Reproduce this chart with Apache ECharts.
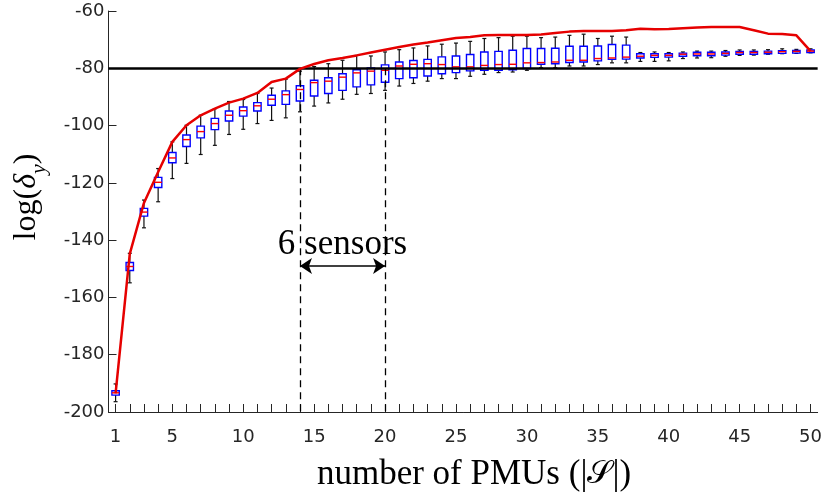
<!DOCTYPE html>
<html>
<head>
<meta charset="utf-8">
<script src="https://cdn.jsdelivr.net/npm/echarts@6/dist/echarts.min.js"></script>
<style>html,body{margin:0;padding:0;background:#fff}</style>
</head>
<body>
<div id="chart" style="width:825px;height:502px"></div>
<script>
// ---- data ----
const categories = ['1','2','3','4','5','6','7','8','9','10','11','12','13','14','15','16','17','18','19','20',
  '21','22','23','24','25','26','27','28','29','30','31','32','33','34','35','36','37','38','39','40',
  '41','42','43','44','45','46','47','48','49','50'];
const xLabelShown = ['1','5','10','15','20','25','30','35','40','45','50'];

const whiskerLow = [-196.4,-154.9,-135.7,-126.6,-118.5,-113.2,-110.1,-106.9,-103.1,-101.3,
  -99.3,-98.2,-97.3,-95.2,-93.2,-92.1,-90.8,-89.1,-88.8,-87.7,
  -86.2,-85.3,-84.5,-83.6,-83.6,-82.8,-82.1,-81.5,-81.3,-80.7,
  -79.8,-79.8,-79.2,-79.2,-78.7,-78.1,-78.1,-77.6,-77.6,-77.4,
  -76.6,-76.4,-76.3,-75.8,-75.5,-75.4,-75.1,-74.9,-74.8,-74.6];
const boxQ1 = [-194.1,-150.6,-131.6,-121.6,-113.0,-107.3,-104.3,-101.4,-98.4,-96.7,
  -94.9,-92.9,-92.6,-91.4,-89.7,-88.8,-87.7,-86.5,-85.8,-84.9,
  -83.6,-83.3,-82.7,-81.9,-81.5,-80.9,-80.7,-80.7,-80.5,-80.1,
  -78.6,-78.4,-78.0,-77.8,-77.4,-76.9,-76.8,-76.4,-76.2,-76.1,
  -75.8,-75.6,-75.6,-75.4,-75.1,-75.1,-74.9,-74.8,-74.7,-74.5];
const boxMedian = [-193.3,-149.2,-130.2,-119.8,-111.3,-104.9,-102.1,-99.3,-96.4,-94.8,
  -93.1,-90.8,-89.2,-87.4,-85.0,-84.5,-83.1,-81.6,-81.0,-80.7,
  -79.2,-78.6,-78.4,-78.7,-79.5,-79.5,-79.0,-78.7,-78.6,-78.1,
  -78.0,-77.8,-77.2,-77.2,-76.6,-76.4,-76.1,-75.8,-75.5,-75.5,
  -75.1,-75.0,-75.0,-74.8,-74.5,-74.5,-74.4,-74.2,-74.1,-74.0];
const boxQ3 = [-192.6,-147.8,-128.9,-118.1,-109.4,-103.3,-100.2,-97.5,-94.9,-93.5,
  -92.0,-89.4,-87.9,-86.1,-84.2,-83.3,-81.9,-80.5,-79.9,-78.8,
  -77.8,-77.3,-76.9,-76.0,-75.7,-75.2,-74.3,-74.1,-73.7,-73.1,
  -73.1,-73.0,-72.3,-72.3,-72.2,-71.7,-71.9,-74.9,-74.9,-74.9,
  -74.7,-74.4,-74.4,-74.3,-74.1,-74.1,-74.0,-73.9,-73.8,-73.6];
const whiskerHigh = [-190.2,-144.6,-126.0,-115.0,-105.7,-99.9,-96.4,-94.1,-91.6,-90.9,
  -88.8,-86.9,-83.8,-81.0,-79.4,-78.4,-77.2,-75.5,-75.7,-74.3,
  -73.5,-72.9,-72.2,-71.6,-71.2,-70.6,-69.6,-69.3,-68.8,-68.8,
  -69.3,-69.1,-68.5,-68.1,-69.6,-68.8,-69.1,-74.5,-74.3,-74.5,
  -74.3,-74.0,-74.0,-73.8,-73.6,-73.6,-73.5,-73.2,-73.4,-73.2];
const maxCurve = [-193.5,-144.8,-127.0,-116.2,-105.7,-99.9,-96.4,-94.1,-92.0,-90.6,
  -88.6,-84.8,-83.6,-80.2,-78.5,-77.2,-76.4,-75.5,-74.5,-73.5,
  -72.6,-71.7,-71.0,-70.2,-69.4,-69.1,-68.5,-68.4,-68.4,-68.4,
  -68.2,-67.7,-67.2,-67.0,-67.0,-67.0,-66.7,-66.2,-66.4,-66.3,
  -66.0,-65.8,-65.6,-65.6,-65.6,-66.7,-67.9,-68.0,-68.5,-74.0];

const yMin = -200, yMax = -60, yStep = 20;
const threshold = -80;
const markFrom = '14', markTo = '20';
const arrowLevel = -149;
const noteCategory = '17', noteLevel = -141.5, noteText = '6 sensors';

// ---- chart ----
const chart = echarts.init(document.getElementById('chart'), null, {renderer: 'canvas'});
const axisColor = '#262626';
const boxData = categories.map((c, i) => [i, whiskerLow[i], boxQ1[i], boxMedian[i], boxQ3[i], whiskerHigh[i]]);

function renderBox(params, api) {
  const i = api.value(0);
  const lo = api.coord([i, api.value(1)]);
  const q1 = api.coord([i, api.value(2)]);
  const md = api.coord([i, api.value(3)]);
  const q3 = api.coord([i, api.value(4)]);
  const hi = api.coord([i, api.value(5)]);
  const band = api.size([1, 0])[0];
  const bw = band * 0.52, cw = band * 0.28;
  const x = lo[0];
  const wStyle = {stroke: '#111', lineWidth: 1.2};
  return {
    type: 'group',
    children: [
      {type: 'line', shape: {x1: x, y1: hi[1], x2: x, y2: q3[1]}, style: wStyle},
      {type: 'line', shape: {x1: x, y1: q1[1], x2: x, y2: lo[1]}, style: wStyle},
      {type: 'line', shape: {x1: x - cw / 2, y1: hi[1], x2: x + cw / 2, y2: hi[1]}, style: wStyle},
      {type: 'line', shape: {x1: x - cw / 2, y1: lo[1], x2: x + cw / 2, y2: lo[1]}, style: wStyle},
      {type: 'rect', shape: {x: x - bw / 2, y: q3[1], width: bw, height: q1[1] - q3[1]},
        style: {fill: 'rgba(255,255,255,0)', stroke: '#0000ff', lineWidth: 1.4}},
      {type: 'line', shape: {x1: x - bw / 2, y1: md[1], x2: x + bw / 2, y2: md[1]},
        style: {stroke: '#ff0000', lineWidth: 1.4}}
    ]
  };
}

const option = {
  animation: false,
  backgroundColor: '#ffffff',
  grid: {left: 108.5, right: 7, top: 11, bottom: 90},
  xAxis: {
    type: 'category',
    data: categories,
    boundaryGap: true,
    axisLine: {show: true, lineStyle: {color: axisColor, width: 1}},
    axisTick: {show: true, inside: true, alignWithLabel: true, interval: 0, length: 8,
      lineStyle: {color: axisColor, width: 1}},
    axisLabel: {interval: (idx, val) => xLabelShown.indexOf(val) >= 0,
      fontFamily: 'DejaVu Sans', fontSize: 18, color: axisColor, margin: 16},
    splitLine: {show: false}
  },
  yAxis: {
    type: 'value',
    min: yMin, max: yMax, interval: yStep,
    axisLine: {show: true, lineStyle: {color: axisColor, width: 1}},
    axisTick: {show: true, inside: true, length: 8, lineStyle: {color: axisColor, width: 1}},
    axisLabel: {fontFamily: 'DejaVu Sans', fontSize: 18, color: axisColor, margin: 4},
    splitLine: {show: false}
  },
  graphic: [
    {
      type: 'text', x: 27, y: 197, rotation: Math.PI / 2,
      style: {
        text: '{n|log(}{g|δ}{s|y}{n|)}',
        align: 'center', verticalAlign: 'middle',
        rich: {
          n: {fontFamily: 'Liberation Serif', fontSize: 32, color: '#000', lineHeight: 46, verticalAlign: 'middle'},
          g: {fontFamily: 'Liberation Serif', fontStyle: 'italic', fontSize: 32, color: '#000', lineHeight: 46, verticalAlign: 'middle'},
          s: {fontFamily: 'Liberation Serif', fontStyle: 'italic', fontSize: 22, color: '#000', lineHeight: 46, verticalAlign: 'bottom'}
        }
      }
    },
    {
      type: 'text', x: 474, y: 475,
      style: {
        text: '{n|number of PMUs (|}{c|𝒮}{n||)}',
        align: 'center', verticalAlign: 'middle',
        rich: {
          n: {fontFamily: 'Liberation Serif', fontSize: 35, color: '#000'},
          c: {fontFamily: 'DejaVu Serif', fontSize: 32, color: '#000'}
        }
      }
    }
  ],
  series: [
    {
      type: 'custom',
      name: 'distribution',
      renderItem: renderBox,
      data: boxData,
      encode: {x: 0, y: [1, 2, 3, 4, 5]},
      z: 3,
      silent: true
    },
    {
      type: 'line',
      name: 'max',
      data: maxCurve,
      symbol: 'none',
      lineStyle: {color: '#e60000', width: 2.5},
      z: 5,
      silent: true,
      markLine: {
        silent: true,
        symbol: ['none', 'none'],
        label: {show: false},
        data: [
          {yAxis: threshold, lineStyle: {color: '#000', width: 2.5, type: 'solid'}},
          [{coord: [markFrom, threshold], lineStyle: {color: '#000', width: 1.3, type: [7, 5]}}, {coord: [markFrom, yMin]}],
          [{coord: [markTo, threshold], lineStyle: {color: '#000', width: 1.3, type: [7, 5]}}, {coord: [markTo, yMin]}],
          [{coord: [markFrom, arrowLevel], symbol: 'arrow', symbolSize: 12, lineStyle: {color: '#000', width: 1.5, type: 'solid'}},
           {coord: [markTo, arrowLevel], symbol: 'arrow', symbolSize: 12}]
        ]
      },
      markPoint: {
        silent: true,
        symbol: 'circle', symbolSize: 0,
        data: [{coord: [noteCategory, noteLevel], value: noteText}],
        label: {show: true, position: 'inside', formatter: noteText,
          fontFamily: 'Liberation Serif', fontSize: 35, color: '#000'}
      }
    }
  ]
};
chart.setOption(option);
</script>
</body>
</html>
